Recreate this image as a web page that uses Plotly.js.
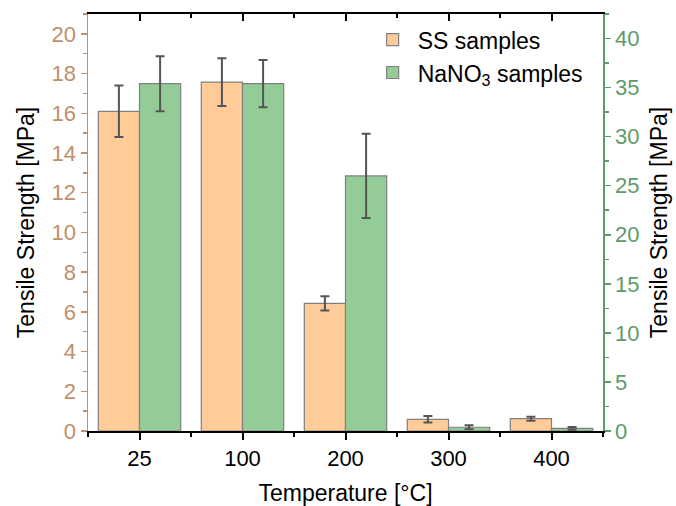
<!DOCTYPE html>
<html>
<head>
<meta charset="utf-8">
<script src="https://cdn.plot.ly/plotly-3.0.1.min.js"></script>
<style>html,body{margin:0;padding:0;background:#fff;}#chart{width:676px;height:506px;}</style>
</head>
<body>
<div id="chart"></div>
<script>
// Data
const categories = ['25', '100', '200', '300', '400'];
const ssValues = [16.1, 17.57, 6.43, 0.59, 0.62];      // left axis, MPa
const ssErrors = [1.3, 1.2, 0.36, 0.16, 0.1];
const naValues = [35.4, 35.4, 26.0, 0.38, 0.27];      // right axis, MPa
const naErrors = [2.8, 2.4, 4.3, 0.2, 0.15];

const xIdx = categories.map((_, i) => i);
const FONT = 'Liberation Sans, Arial, sans-serif';
const TAN = '#c0906a';
const GREEN = '#5f9a6a';

const traces = [
  {
    type: 'bar', name: 'SS samples', x: xIdx, y: ssValues,
    yaxis: 'y', offsetgroup: '1',
    marker: {color: '#ffcc99', line: {color: '#808080', width: 1.2}},
    error_y: {type: 'data', array: ssErrors, visible: true, color: '#555555', thickness: 2, width: 4.5}
  },
  {
    type: 'bar', name: 'NaNO<sub>3</sub> samples', x: xIdx, y: naValues,
    yaxis: 'y2', offsetgroup: '2',
    marker: {color: '#94cc98', line: {color: '#808080', width: 1.2}},
    error_y: {type: 'data', array: naErrors, visible: true, color: '#555555', thickness: 2, width: 4.5}
  },
  {
    type: 'scatter', mode: 'markers', x: xIdx, y: xIdx.map(() => null),
    xaxis: 'x2', yaxis: 'y', showlegend: false, hoverinfo: 'skip'
  }
];

const layout = {
  width: 676, height: 506,
  margin: {l: 88, r: 73, t: 14, b: 75},
  paper_bgcolor: '#ffffff', plot_bgcolor: '#ffffff',
  font: {family: FONT, size: 22, color: '#000000'},
  barmode: 'group', bargap: 0.2, bargroupgap: 0,
  showlegend: true,
  legend: {x: 0.543, y: 0.99, xanchor: 'left', yanchor: 'top', bgcolor: 'rgba(0,0,0,0)',
           font: {family: FONT, size: 23, color: '#000'}, tracegroupgap: 0, itemwidth: 40},
  xaxis: {
    range: [-0.5, 4.5], tickmode: 'array', tickvals: xIdx, ticktext: categories,
    showline: true, linecolor: '#000', linewidth: 2,
    ticks: 'outside', ticklen: 7, tickwidth: 2, tickcolor: '#000',
    minor: {tick0: 0.5, dtick: 1, ticks: 'outside', ticklen: 4, tickwidth: 2, tickcolor: '#000'},
    showgrid: false, zeroline: false,
    tickfont: {size: 22, color: '#000'},
    title: {text: 'Temperature [°C]', font: {size: 23, color: '#000'}, standoff: 26}
  },
  xaxis2: {
    overlaying: 'x', side: 'top', anchor: 'y',
    range: [-0.5, 4.5], tickmode: 'array', tickvals: xIdx,
    showticklabels: false,
    showline: true, linecolor: '#000', linewidth: 2,
    ticks: 'inside', ticklen: 7, tickwidth: 2, tickcolor: '#000',
    minor: {tick0: 0.5, dtick: 1, ticks: 'inside', ticklen: 4, tickwidth: 2, tickcolor: '#000'},
    showgrid: false, zeroline: false
  },
  yaxis: {
    range: [0, 21], tick0: 0, dtick: 2,
    showline: true, linecolor: TAN, linewidth: 1.5,
    ticks: 'outside', ticklen: 6, tickwidth: 1.5, tickcolor: TAN,
    minor: {dtick: 1, ticks: 'outside', ticklen: 4, tickwidth: 1.5, tickcolor: TAN},
    showgrid: false, zeroline: false,
    tickfont: {size: 22, color: TAN},
    title: {text: 'Tensile Strength [MPa]', font: {size: 23, color: '#000'}, standoff: 10}
  },
  yaxis2: {
    overlaying: 'y', side: 'right', anchor: 'x',
    range: [0, 42.5], tick0: 0, dtick: 5,
    showline: true, linecolor: GREEN, linewidth: 1.5,
    ticks: 'outside', ticklen: 6, tickwidth: 1.5, tickcolor: GREEN,
    minor: {dtick: 2.5, ticks: 'outside', ticklen: 4, tickwidth: 1.5, tickcolor: GREEN},
    showgrid: false, zeroline: false,
    tickfont: {size: 22, color: GREEN},
    title: {text: 'Tensile Strength [MPa]', font: {size: 23, color: '#000'}, standoff: 12}
  }
};

Plotly.newPlot('chart', traces, layout, {displayModeBar: false, staticPlot: true});
</script>
</body>
</html>
